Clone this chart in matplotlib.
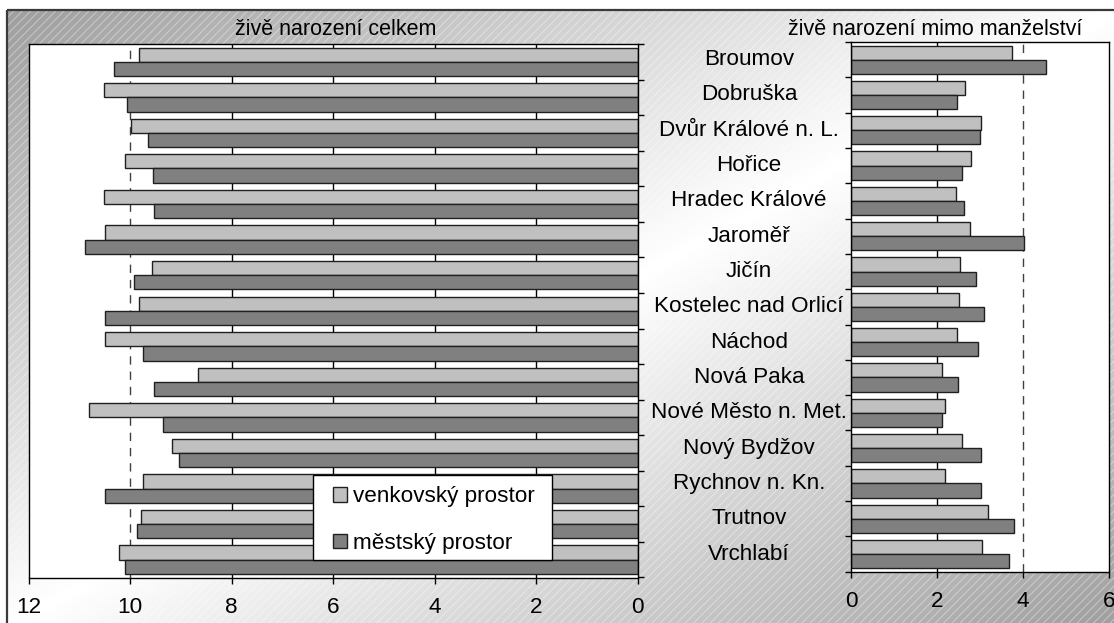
import numpy as np
import matplotlib
matplotlib.use("Agg")
import matplotlib.pyplot as plt
from matplotlib.patches import Rectangle
from matplotlib.transforms import blended_transform_factory

plt.rcParams['font.family'] = ['Liberation Sans', 'DejaVu Sans']
plt.rcParams['hatch.linewidth'] = 0.7

categories = ['Broumov', 'Dobruška', 'Dvůr Králové n. L.', 'Hořice', 'Hradec Králové',
              'Jaroměř', 'Jičín', 'Kostelec nad Orlicí', 'Náchod', 'Nová Paka',
              'Nové Město n. Met.', 'Nový Bydžov', 'Rychnov n. Kn.', 'Trutnov', 'Vrchlabí']

# živě narození celkem
total_rural = [9.82, 10.51, 9.99, 10.09, 10.52, 10.50, 9.56, 9.83, 10.50, 8.66,
               10.80, 9.18, 9.75, 9.79, 10.21]
total_urban = [10.32, 10.05, 9.64, 9.55, 9.52, 10.88, 9.92, 10.50, 9.75, 9.52,
               9.34, 9.03, 10.50, 9.87, 10.09]

# živě narození mimo manželství
outside_rural = [3.74, 2.65, 3.02, 2.80, 2.45, 2.77, 2.54, 2.51, 2.46, 2.11,
                 2.19, 2.57, 2.18, 3.19, 3.04]
outside_urban = [4.54, 2.46, 2.99, 2.59, 2.62, 4.02, 2.91, 3.10, 2.96, 2.48,
                 2.11, 3.02, 3.02, 3.80, 3.67]

series_labels = ['venkovský prostor', 'městský prostor']
left_title = 'živě narození celkem'
right_title = 'živě narození mimo manželství'

W, H = 1114, 623
FS = 16.2
light, dark = '#c0c0c0', '#808080'

fig = plt.figure(figsize=(W / 100, H / 100), dpi=100)

# background: diagonal gradient with fine hatch, inside a thin frame
bg = fig.add_axes([0, 0, 1, 1], zorder=-10)
bg.set_xlim(0, W)
bg.set_ylim(H, 0)
bg.axis('off')
u = np.linspace(0, 1, 400)
v = np.linspace(0, 1, 240)
uu, vv = np.meshgrid(u, v)
t = (uu + vv) / 2
level = 0.62 + 0.38 * (1 - np.abs(2 * t - 1))
bg.imshow(level, cmap='gray', vmin=0, vmax=1, extent=(7, W + 5, H + 5, 9.5),
          aspect='auto', interpolation='bilinear')
bg.add_patch(Rectangle((7, 9.5), W, H, facecolor='none', edgecolor=(1, 1, 1, 0.4),
                       lw=0, hatch='////'))
bg.add_patch(Rectangle((7, 9.5), W, H, facecolor='none', edgecolor='#3a3a3a', lw=1.6))

y = np.arange(len(categories))
bh = 0.4


def setup(ax, xmax, ref, side):
    ax.set_facecolor('white')
    ax.set_ylim(len(categories) - 0.5, -0.5)
    ax.set_xlim(0, xmax)
    ax.set_xticks(np.arange(0, xmax + 1, 2))
    ax.set_yticks([])
    ax.set_yticks(np.arange(-0.5, len(categories), 1), minor=True)
    ax.tick_params(axis='y', which='minor', direction='out', length=4.3, width=1,
                   left=(side == 'left'), right=(side == 'right'))
    ax.tick_params(axis='x', direction='out', length=4, width=1, pad=10, labelsize=FS)
    for sp in ax.spines.values():
        sp.set_linewidth(1)
        sp.set_color('black')
    for g in np.arange(2, xmax, 2):
        if g != ref:
            ax.axvline(g, color='black', lw=1, zorder=0.5)
    ax.axvline(ref, color='#404040', lw=1, ls=(0, (6, 5)), zorder=0.5)


ax1 = fig.add_axes([28.5 / W, 1 - 577.5 / H, 609 / W, 533.5 / H])
setup(ax1, 12, 10, 'right')
b1 = ax1.barh(y - bh / 2, total_rural, height=bh, color=light, edgecolor='#202020', lw=1, zorder=2)
b2 = ax1.barh(y + bh / 2, total_urban, height=bh, color=dark, edgecolor='#202020', lw=1, zorder=2)
ax1.invert_xaxis()

ax2 = fig.add_axes([851 / W, 1 - 571.7 / H, 258 / W, 529.7 / H])
setup(ax2, 6, 4, 'left')
ax2.barh(y - bh / 2, outside_rural, height=bh, color=light, edgecolor='#202020', lw=1, zorder=2)
ax2.barh(y + bh / 2, outside_urban, height=bh, color=dark, edgecolor='#202020', lw=1, zorder=2)

trans = blended_transform_factory(fig.transFigure, ax2.transData)
for i, name in enumerate(categories):
    ax2.text(749 / W, i, name, transform=trans, ha='center', va='center',
             fontsize=FS, clip_on=False)

fig.text(335.8 / W, 1 - 35 / H, left_title, ha='center', va='baseline', fontsize=15.5)
fig.text(935.5 / W, 1 - 35 / H, right_title, ha='center', va='baseline', fontsize=15.5)

# legend box drawn by hand so its padding matches, entries placed inside
fig.patches.append(Rectangle((313 / W, 1 - 560 / H), 239 / W, 85 / H, transform=fig.transFigure,
                             facecolor='white', edgecolor='black', lw=1, zorder=4))
leg = fig.legend([b1, b2], series_labels, loc='center', bbox_to_anchor=(434 / W, 1 - 520 / H),
                 fontsize=FS, frameon=False, borderpad=0, labelspacing=1.12,
                 handlelength=0.6, handleheight=0.6, handletextpad=0.3)
leg.set_zorder(5)

fig.savefig('out.png', dpi=100)
